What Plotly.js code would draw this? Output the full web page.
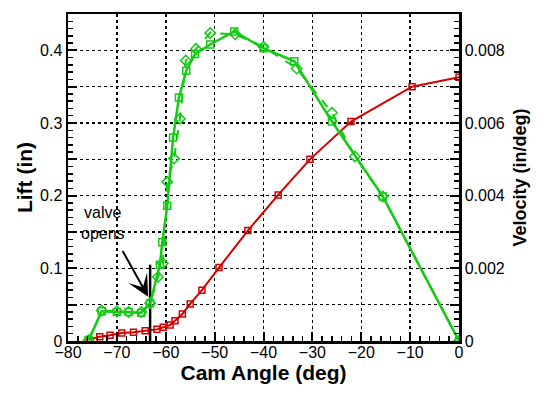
<!DOCTYPE html>
<html><head><meta charset="utf-8">
<script src="https://cdn.plot.ly/plotly-3.0.1.min.js"></script>
<style>body{margin:0;padding:0;background:#fff}#chart{width:547px;height:397px}</style>
</head><body><div id="chart"></div>
<script>
// Lift (left axis, in)
var liftAngle = [-75.7,-73.5,-71.4,-69.0,-66.6,-64.2,-61.8,-60.5,-59.1,-58.1,-56.6,-55.0,-52.6,-49.1,-43.2,-37.0,-30.5,-22.1,-9.6,0];
var lift = [0.002,0.006,0.008,0.011,0.012,0.014,0.016,0.019,0.022,0.028,0.037,0.051,0.070,0.101,0.152,0.201,0.250,0.302,0.350,0.363];
// Velocity (right axis, in/deg) - solid, squares
var velAngle = [-75.8,-73.1,-70.0,-67.6,-65.0,-63.2,-61.2,-60.7,-59.7,-58.5,-57.3,-55.8,-54.0,-50.9,-46.0,-40.0,-33.7,-26.0,-15.6,0];
var vel = [0.00002,0.00082,0.0008,0.0008,0.00078,0.00104,0.0021,0.00272,0.00372,0.0056,0.0067,0.00744,0.0079,0.00816,0.00852,0.00806,0.0077,0.00604,0.00398,0];
// Velocity (right axis, in/deg) - dashed, diamonds
var vel2Angle = [-75.8,-73.1,-70.0,-67.6,-65.0,-63.2,-61.6,-60.6,-59.7,-58.3,-57.1,-55.9,-53.8,-50.9,-45.8,-40.0,-33.2,-26.0,-21.3,-15.6,0];
var vel2 = [0.00002,0.00084,0.00082,0.0008,0.0008,0.00104,0.00176,0.00214,0.00438,0.00502,0.00612,0.00772,0.00804,0.00848,0.00844,0.0081,0.0075,0.00628,0.00508,0.00398,0];
// valve opening marker
var valveX = [-63.2,-63.2];
var valveY = [0,0.105];
var arrowTip = [-63.6,0.061];
var arrowTail = [-69.0,0.126];
var noteText = 'valve<br>opens';
var notePos = [-72.8,0.163];

var xTicks = [-80,-70,-60,-50,-40,-30,-20,-10,0];
var yTicks = [0,0.05,0.1,0.15,0.2,0.25,0.3,0.35,0.4,0.45];
var yText = ['0','','0.1','','0.2','','0.3','','0.4',''];
var y2Ticks = [0,0.001,0.002,0.003,0.004,0.005,0.006,0.007,0.008,0.009];
var y2Text = ['0','','0.002','','0.004','','0.006','','0.008',''];

var RED='#d40000', GREEN='#12cc12';
var traces = [
 {x:vel2Angle,y:vel2,yaxis:'y2',mode:'lines+markers',line:{color:GREEN,width:2,dash:'dash'},marker:{symbol:'diamond-open',size:8,color:GREEN,line:{width:1.5,color:GREEN}}},
 {x:velAngle,y:vel,yaxis:'y2',mode:'lines+markers',line:{color:GREEN,width:2.5},marker:{symbol:'square-open',size:7,color:GREEN,line:{width:1.5,color:GREEN}}},
 {x:liftAngle,y:lift,mode:'lines+markers',line:{color:RED,width:2},marker:{symbol:'square-open',size:6,color:RED,line:{width:1.5,color:RED}}},
 {x:valveX,y:valveY,mode:'lines',line:{color:'#000',width:2.5}}
];
var F='Liberation Sans, Arial, sans-serif';
var tickFont={family:F,size:16,color:'#000'};
var layout = {
 width:547,height:397,showlegend:false,
 paper_bgcolor:'#fff',plot_bgcolor:'#fff',
 margin:{l:68,r:88,t:14,b:56},
 xaxis:{range:[-80,0],tickvals:xTicks,ticks:'inside',ticklen:9,tickwidth:2,tickcolor:'#000',ticklabelstandoff:-5,
   showline:true,linecolor:'#000',linewidth:2.5,mirror:true,zeroline:false,
   showgrid:true,gridcolor:'#000',griddash:'dot',gridwidth:1.5,
   minor:{dtick:2,ticks:'inside',ticklen:5,tickwidth:1.5,tickcolor:'#000',showgrid:false},
   tickfont:tickFont,title:{text:'Cam Angle (deg)',font:{family:F,size:21,color:'#000',weight:'bold'},standoff:3}},
 yaxis:{range:[0,0.45],tickvals:yTicks,ticktext:yText,ticks:'inside',ticklen:9,tickwidth:2,tickcolor:'#000',
   showline:true,linecolor:'#000',linewidth:2.5,zeroline:false,
   showgrid:true,gridcolor:'#000',griddash:'dot',gridwidth:1.5,
   minor:{dtick:0.01,tick0:0,ticks:'inside',ticklen:5,tickwidth:1.5,tickcolor:'#000',showgrid:false},
   tickfont:tickFont,title:{text:'Lift (in)',font:{family:F,size:21,color:'#000',weight:'bold'},standoff:2}},
 yaxis2:{overlaying:'y',side:'right',range:[0,0.009],tickvals:y2Ticks,ticktext:y2Text,ticks:'inside',ticklen:9,tickwidth:2,tickcolor:'#000',
   showline:true,linecolor:'#000',linewidth:2.5,zeroline:false,showgrid:false,
   minor:{dtick:0.0002,tick0:0,ticks:'inside',ticklen:5,tickwidth:1.5,tickcolor:'#000',showgrid:false},
   tickfont:tickFont,title:{text:'Velocity (in/deg)',font:{family:F,size:18,color:'#000',weight:'bold'},standoff:10}},
 annotations:[
  {x:arrowTip[0],y:arrowTip[1],xref:'x',yref:'y',ax:arrowTail[0],ay:arrowTail[1],axref:'x',ayref:'y',
   text:'',showarrow:true,arrowhead:3,arrowsize:1.8,arrowwidth:2,arrowcolor:'#000'},
  {x:notePos[0],y:notePos[1],xref:'x',yref:'y',text:noteText,showarrow:false,
   font:{family:F,size:16,color:'#000'},align:'center'}
 ]
};
Plotly.newPlot('chart',traces,layout,{displayModeBar:false,staticPlot:true});
</script></body></html>
